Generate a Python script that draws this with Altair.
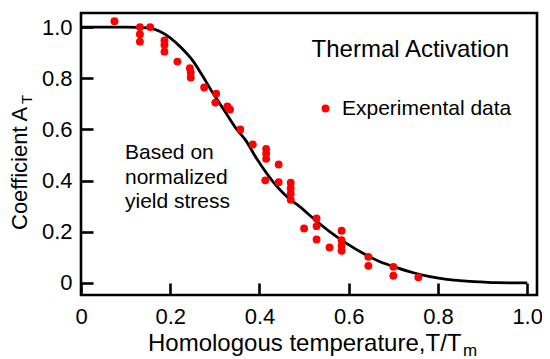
import altair as alt
import pandas as pd

# Experimental data points (T/Tm, A_T)
exp_x = [0.075, 0.132, 0.155, 0.132, 0.132, 0.187, 0.187, 0.187, 0.216, 0.244,
         0.246, 0.246, 0.276, 0.303, 0.301, 0.328, 0.334, 0.357, 0.385, 0.415,
         0.415, 0.415, 0.443, 0.413, 0.443, 0.470, 0.470, 0.470, 0.470, 0.500,
         0.528, 0.528, 0.528, 0.557, 0.584, 0.584, 0.584, 0.584, 0.644, 0.644,
         0.700, 0.700, 0.756]
exp_y = [1.023, 1.000, 1.000, 0.972, 0.943, 0.948, 0.930, 0.904, 0.865, 0.839,
         0.822, 0.803, 0.764, 0.740, 0.705, 0.690, 0.678, 0.600, 0.541, 0.524,
         0.505, 0.485, 0.463, 0.401, 0.394, 0.392, 0.370, 0.350, 0.325, 0.213,
         0.252, 0.222, 0.170, 0.139, 0.204, 0.167, 0.145, 0.126, 0.102, 0.067,
         0.063, 0.028, 0.022]

# Model curve
curve_x = [0.0, 0.10, 0.15, 0.175, 0.20, 0.226, 0.25, 0.274, 0.297, 0.319,
           0.349, 0.368, 0.394, 0.431, 0.469, 0.484, 0.521, 0.558, 0.596, 0.633,
           0.670, 0.708, 0.745, 0.782, 0.820, 0.857, 0.895, 0.932, 1.0]
curve_y = [1.0, 1.0, 0.997, 0.985, 0.958, 0.917, 0.870, 0.805, 0.738, 0.680,
           0.600, 0.560, 0.485, 0.394, 0.326, 0.307, 0.252, 0.200, 0.154, 0.115,
           0.083, 0.060, 0.040, 0.025, 0.014, 0.008, 0.004, 0.001, 0.0]

tick_vals = [0.0, 0.2, 0.4, 0.6, 0.8, 1.0]
series_name = "Experimental data"

FONT = "Liberation Sans"
W, H = 456, 282

exp_df = pd.DataFrame({"x": exp_x, "y": exp_y, "series": series_name})
curve_df = pd.DataFrame({"x": curve_x, "y": curve_y})

lab_expr = "datum.value == 0 ? '0' : format(datum.value, '.1f')"

xscale = alt.Scale(domain=[0, 1.022], nice=False, zero=False)
yscale = alt.Scale(domain=[-0.047, 1.055], nice=False, zero=False)

xaxis = alt.Axis(values=tick_vals, labelExpr=lab_expr, title=None, grid=False,
                 domain=False, offset=-12, tickSize=12, tickWidth=2.6,
                 tickColor="black", labelPadding=11, labelFont=FONT,
                 labelFontSize=22, labelColor="black", labelFlush=False,
                 labelOverlap=False)
yaxis = alt.Axis(values=tick_vals, labelExpr=lab_expr, title=None, grid=False,
                 domain=False, offset=-12, tickSize=12, tickWidth=2.6,
                 tickColor="black", labelPadding=9, labelFont=FONT,
                 labelFontSize=22, labelColor="black", labelFlush=False,
                 labelOverlap=False)

points = alt.Chart(exp_df).mark_circle(size=62, opacity=1).encode(
    x=alt.X("x:Q", scale=xscale, axis=xaxis),
    y=alt.Y("y:Q", scale=yscale, axis=yaxis),
    color=alt.Color("series:N",
                    scale=alt.Scale(domain=[series_name], range=["#ff0000"]),
                    legend=alt.Legend(orient="none", legendX=234, legendY=85,
                                      title=None, padding=0, labelFont=FONT,
                                      labelFontSize=21, labelColor="black",
                                      labelOffset=6, labelLimit=400,
                                      symbolType="circle",
                                      symbolSize=62, symbolStrokeWidth=0)),
)

line = alt.Chart(curve_df).mark_line(color="black", strokeWidth=2.8,
                                     interpolate="monotone").encode(
    x=alt.X("x:Q", scale=xscale),
    y=alt.Y("y:Q", scale=yscale),
)

def txt(text, x, y, size, align="left", angle=0, baseline="alphabetic"):
    return alt.Chart(pd.DataFrame({"t": [text]})).mark_text(
        font=FONT, fontSize=size, align=align, baseline=baseline, angle=angle,
        color="black", lineHeight=24.5, lineBreak="\n"
    ).encode(text="t:N", x=alt.value(x), y=alt.value(y))

texts = [
    txt("Thermal Activation", 428, 44, 24, align="right"),
    txt("Based on\nnormalized\nyield stress", 44, 146, 21),
    txt("Homologous temperature,T/T", 67, 338, 24),
    txt("m", 382, 343, 17),
    txt("Coefficient A", -54, 217, 22, angle=270),
    txt("T", -49, 91, 15, angle=270),
]

chart = alt.layer(line, points, *texts).properties(
    width=W, height=H,
    autosize=alt.AutoSizeParams(type="none"),
    padding={"left": 73, "top": 5, "right": 5, "bottom": 64},
).configure_view(stroke="black", strokeWidth=2.6)

chart.save("out.html", embed_options={"renderer": "svg", "actions": False})
